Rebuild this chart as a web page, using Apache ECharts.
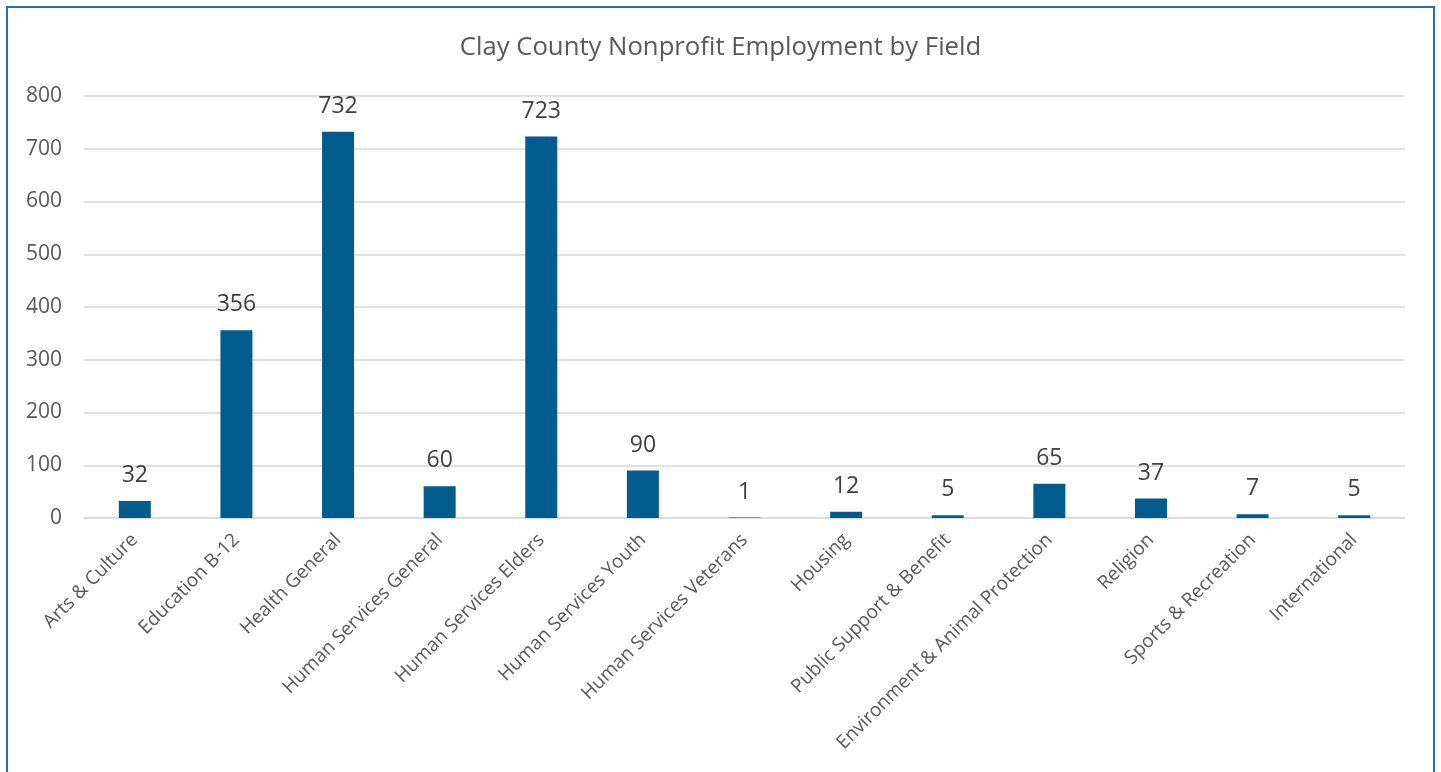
<!DOCTYPE html>
<html><head><meta charset="utf-8">
<script src="https://cdn.jsdelivr.net/npm/echarts@6/dist/echarts.min.js"></script>
<style>html,body{margin:0;padding:0;background:#fff}#c{width:1441px;height:772px}</style>
</head><body><div id="c"></div>
<script>
const categories = ["Arts & Culture","Education B-12","Health General","Human Services General","Human Services Elders","Human Services Youth","Human Services Veterans","Housing","Public Support & Benefit","Environment & Animal Protection","Religion","Sports & Recreation","International"];
const employees = [32,356,732,60,723,90,1,12,5,65,37,7,5];
const yTicks = {min:0,max:800,interval:100};
const FONT = "'Open Sans', 'Noto Sans', sans-serif";
const chart = echarts.init(document.getElementById('c'));
chart.setOption({
  animation:false,
  backgroundColor:'#fff',
  title:{text:'Clay County Nonprofit Employment by Field',left:'center',top:30,
    textStyle:{fontFamily:FONT,fontSize:25.7,fontWeight:'normal',color:'#595959'}},
  graphic:[{type:'rect',shape:{x:7,y:7,width:1427,height:820},silent:true,z:100,
    style:{fill:'none',stroke:'#2B6FA3',lineWidth:2}}],
  grid:{left:84,right:36,top:96,bottom:254,containLabel:false},
  xAxis:{type:'category',data:categories,
    axisLine:{lineStyle:{color:'#D9D9D9',width:1.5}},axisTick:{show:false},
    axisLabel:{rotate:45,interval:0,margin:19,fontFamily:FONT,fontSize:19,color:'#595959'}},
  yAxis:{type:'value',min:yTicks.min,max:yTicks.max,interval:yTicks.interval,
    axisLine:{show:false},axisTick:{show:false},
    splitLine:{lineStyle:{color:'#D9D9D9',width:1.5}},
    axisLabel:{margin:22,fontFamily:FONT,fontSize:21,color:'#595959'}},
  series:[{type:'bar',data:employees,barWidth:'31.5%',
    itemStyle:{color:'#025D8E'},
    label:{show:true,position:'top',distance:14,fontFamily:FONT,fontSize:23,color:'#404040'}}]
});
</script></body></html>
